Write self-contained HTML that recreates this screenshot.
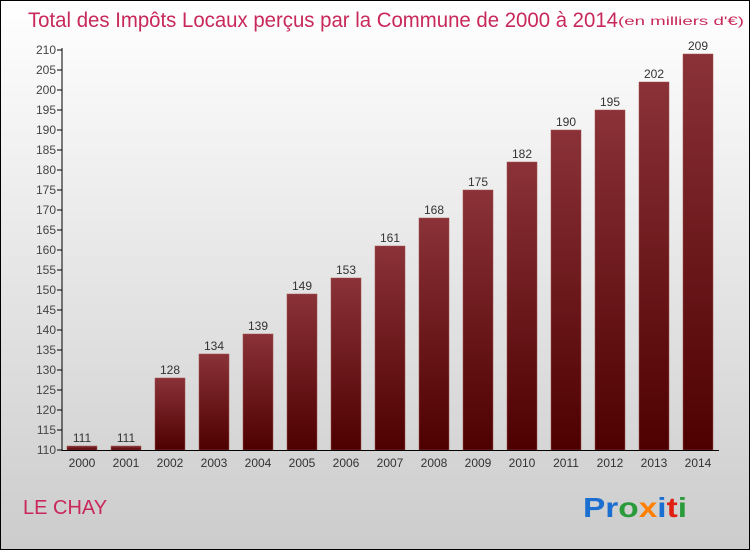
<!DOCTYPE html>
<html><head><meta charset="utf-8"><style>
body{margin:0}
#c{width:748px;height:548px;border:1px solid #000;position:relative;background:linear-gradient(#fff,#ccc);font-family:"Liberation Sans",sans-serif;overflow:hidden}
</style></head><body>
<div id="c">
<svg id="s" width="748" height="548">
<defs><linearGradient id="g" x1="0" y1="0" x2="0" y2="1"><stop offset="0" stop-color="#8a3238"/><stop offset="1" stop-color="#4e0000"/></linearGradient></defs>
<text x="27" y="26" font-size="21" fill="#c8285a" textLength="590" lengthAdjust="spacingAndGlyphs">Total des Impôts Locaux perçus par la Commune de 2000 à 2014</text>
<text x="617" y="24" font-size="12" fill="#c8285a" textLength="126" lengthAdjust="spacingAndGlyphs">(en milliers d'€)</text>
<text x="22" y="513" font-size="20" fill="#c8285a">LE CHAY</text>
<text x="582" y="516" font-size="28" font-weight="bold" textLength="104" lengthAdjust="spacingAndGlyphs"><tspan fill="#1a6fd0">Pr</tspan><tspan fill="#2a9a3a">o</tspan><tspan fill="#ff8000">x</tspan><tspan fill="#1a6fd0">i</tspan><tspan fill="#e02010">t</tspan><tspan fill="#2a9a3a">i</tspan></text>
<g id="plot"></g>
</svg></div>
<script>
const years=["2000","2001","2002","2003","2004","2005","2006","2007","2008","2009","2010","2011","2012","2013","2014"];
const values=[111,111,128,134,139,149,153,161,168,175,182,190,195,202,209];
const yTicks=[110,115,120,125,130,135,140,145,150,155,160,165,170,175,180,185,190,195,200,205,210];
const ns="http://www.w3.org/2000/svg",g=document.getElementById('plot');
const y=v=>449-(v-110)*4, x=i=>81+i*44;
function el(t,a){const e=document.createElementNS(ns,t);for(const k in a)e.setAttribute(k,a[k]);g.appendChild(e);return e;}
yTicks.forEach(v=>{
 const t=el('line',{x1:56,x2:61,y1:y(v),y2:y(v),stroke:'#000'});
 
 
 const l=el('text',{x:55,y:y(v)+4,'text-anchor':'end','font-size':12,fill:'#444'});
 l.textContent=v;
 
 
});
values.forEach((v,i)=>{
 const b=el('rect',{x:x(i)-15,y:y(v),width:30,height:449-y(v),fill:'url(#g)',stroke:'#a05050','stroke-width':0.5});
 
 
 const t=el('text',{x:x(i),y:y(v)-4,'text-anchor':'middle','font-size':12,fill:'#333'});
 t.textContent=v;
 
 
 const yl=el('text',{x:x(i),y:466,'text-anchor':'middle','font-size':12,fill:'#333'});
 yl.textContent=years[i];
 
 
});
const ya=el('line',{x1:61,x2:61,y1:y(210)-2,y2:450,stroke:'#000'});


const xa=el('line',{x1:61,x2:718,y1:449.5,y2:449.5,stroke:'#000'});


</script>
</body></html>
